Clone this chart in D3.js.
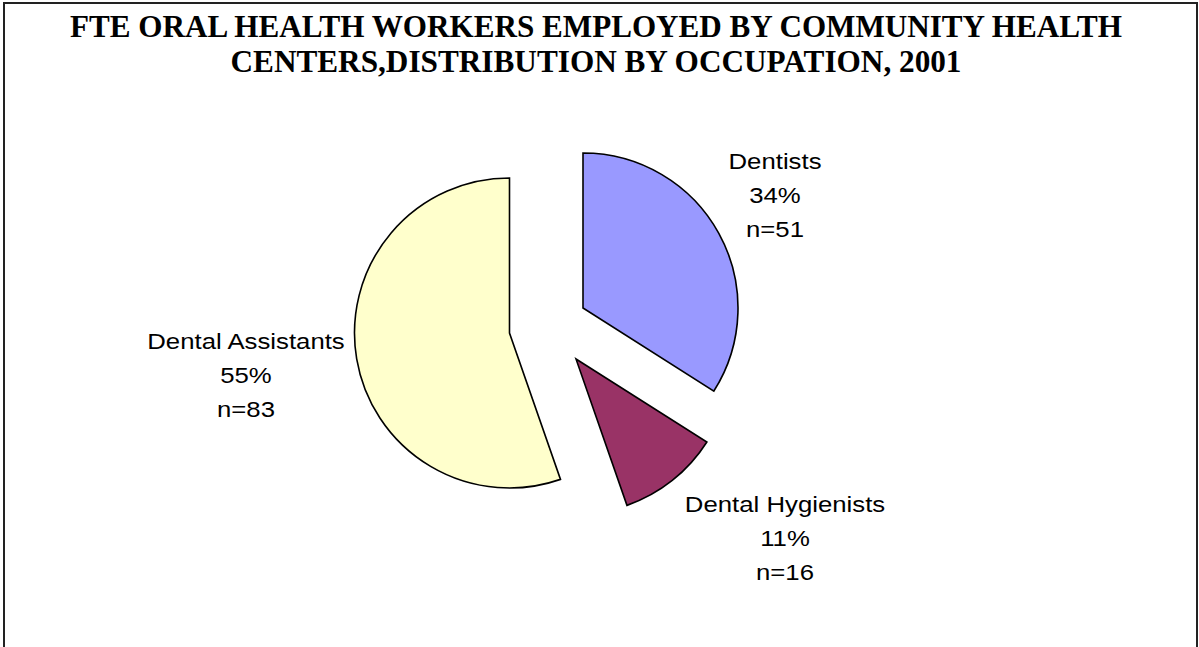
<!DOCTYPE html>
<html>
<head>
<meta charset="utf-8">
<script src="https://cdn.jsdelivr.net/npm/d3@7"></script>
<style>
  html, body { margin: 0; padding: 0; background: #ffffff; }
  svg { display: block; }
</style>
</head>
<body>
<svg id="chart" width="1199" height="647"></svg>
<script>
// Occupation categories and FTE counts, 2001
const categories = ["Dentists", "Dental Hygienists", "Dental Assistants"];
const counts = [51, 16, 83];
const percentLabels = ["34%", "11%", "55%"];
const titleLines = [
  "FTE ORAL HEALTH WORKERS EMPLOYED BY COMMUNITY HEALTH",
  "CENTERS,DISTRIBUTION BY OCCUPATION, 2001"
];

// Styling / layout
const sliceColors = ["#9999FF", "#993366", "#FFFFCC"];
const W = 1199, H = 647;
const center = [550, 330];
const radius = 155;
// per-slice pull-out of the exploded pie
const explode = [[33, -22], [26, 29], [-40.5, 3]];
// label anchor (centre x, first baseline) per slice
const labelPos = [[775, 169], [785, 512], [246, 349]];
const lineGap = 34;

const svg = d3.select("#chart");

svg.append("rect")
  .attr("x", 0).attr("y", 0).attr("width", W).attr("height", H)
  .attr("fill", "#ffffff");

// outer frame
svg.append("rect")
  .attr("x", 4).attr("y", 3)
  .attr("width", 1193).attr("height", 720)
  .attr("fill", "none")
  .attr("stroke", "#222")
  .attr("stroke-width", 2);

// title
const titleWidths = [1052, 731];
const titleBase = [37, 72];
svg.selectAll("text.title")
  .data(titleLines)
  .join("text")
  .attr("class", "title")
  .attr("x", 596)
  .attr("y", (d, i) => titleBase[i])
  .attr("text-anchor", "middle")
  .attr("font-family", "'Liberation Serif', 'Times New Roman', serif")
  .attr("font-weight", "bold")
  .attr("font-size", 31)
  .attr("textLength", (d, i) => titleWidths[i])
  .attr("lengthAdjust", "spacingAndGlyphs")
  .attr("fill", "#000")
  .text(d => d);

// pie
const pie = d3.pie().sort(null).value(d => d)(counts);
const arc = d3.arc().innerRadius(0).outerRadius(radius);

svg.append("g")
  .selectAll("path")
  .data(pie)
  .join("path")
  .attr("transform", (d, i) => `translate(${center[0] + explode[i][0]},${center[1] + explode[i][1]})`)
  .attr("d", arc)
  .attr("fill", (d, i) => sliceColors[i])
  .attr("stroke", "#000")
  .attr("stroke-width", 1.6)
  .attr("stroke-linejoin", "miter");

// data labels: name, percent, count
const labels = svg.append("g");
categories.forEach((c, i) => {
  const lines = [c, percentLabels[i], "n=" + counts[i]];
  const g = labels.append("g")
    .attr("transform", `translate(${labelPos[i][0]},${labelPos[i][1]}) scale(1.12,1)`);
  g.selectAll("text")
    .data(lines)
    .join("text")
    .attr("x", 0)
    .attr("y", (d, k) => k * lineGap)
    .attr("text-anchor", "middle")
    .attr("font-family", "'Liberation Sans', Arial, sans-serif")
    .attr("font-size", 23)
    .attr("fill", "#000")
    .text(d => d);
});
</script>
</body>
</html>
